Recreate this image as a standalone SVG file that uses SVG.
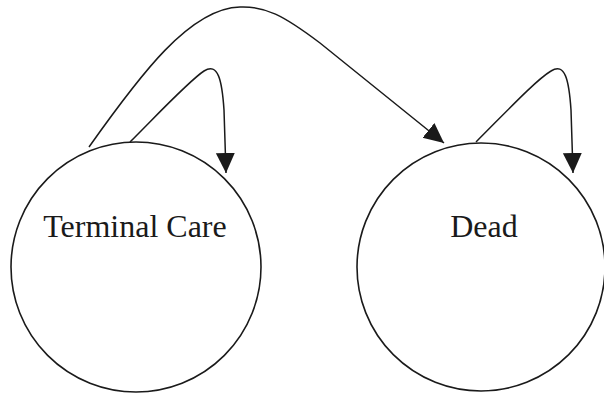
<svg xmlns="http://www.w3.org/2000/svg" width="604" height="394" viewBox="0 0 604 394">
<style>
.node{fill:#fff;stroke:#1a1a1a;stroke-width:1.6}
.lbl{font-family:"Liberation Serif","Times New Roman",serif;font-size:32px;fill:#1a1a1a;text-anchor:middle}
.edge{fill:none;stroke:#1a1a1a;stroke-width:1.5}
</style>
<defs>
<marker id="ah" markerUnits="userSpaceOnUse" markerWidth="22" markerHeight="22" refX="20" refY="9.5" orient="auto" viewBox="0 0 22 22">
<path d="M0,0 L20,9.5 L0,19 z" fill="#1a1a1a"/>
</marker>
</defs>
<rect width="604" height="394" fill="#fff"/>
<g id="terminal-care">
<circle class="node" cx="136" cy="267" r="125"/>
<text class="lbl" x="135" y="237">Terminal Care</text>
</g>
<g id="dead">
<circle class="node" cx="481" cy="267" r="124"/>
<text class="lbl" x="484" y="237">Dead</text>
</g>
<g id="connectors">
<path class="edge" marker-end="url(#ah)" d="M130,142 C160,112 190,80 204,71 C218,62 222,80 224,110 L226,173"/>
<path class="edge" marker-end="url(#ah)" d="M89,147 C140,75 190,8 240,7 C265,6 283,15 320,43 L444,143"/>
<path class="edge" marker-end="url(#ah)" d="M476,142 C506,112 536,80 551,71 C565,62 569,80 571,110 L573,173"/>
</g>
</svg>
